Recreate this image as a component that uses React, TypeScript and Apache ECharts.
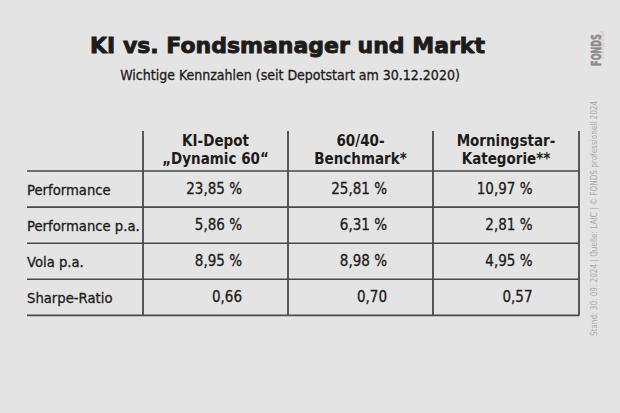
import React, { useEffect, useRef } from "react";
import * as echarts from "echarts";

const title = "KI vs. Fondsmanager und Markt";
const subtitle = "Wichtige Kennzahlen (seit Depotstart am 30.12.2020)";
const columnHeaders = ["KI-Depot\n„Dynamic 60“", "60/40-\nBenchmark*", "Morningstar-\nKategorie**"];
const rowLabels = ["Performance", "Performance p.a.", "Vola p.a.", "Sharpe-Ratio"];
const kiDepot = [23.85, 5.86, 8.95, 0.66];
const benchmark = [25.81, 6.31, 8.98, 0.7];
const morningstar = [10.97, 2.81, 4.95, 0.57];
const isPercent = [true, true, true, false];
const sourceNote = "Stand: 30. 09. 2024 | Quelle: LAIC | © FONDS professionell 2024";

const NARROW = "'DejaVu Sans Condensed', 'Liberation Sans Narrow', sans-serif";

export default function App() {
  const ref = useRef<HTMLDivElement>(null);
  useEffect(() => {
    document.body.style.margin = "0";
    const chart = echarts.init(ref.current!, undefined, { renderer: "svg" });
    const columns = [kiDepot, benchmark, morningstar];
    const lineColor = "#4b4846";
    const textColor = "#1f1b1a";
    const left = 27;
    const right = 579;
    const colX = [143, 288, 433, 579];
    const top = 131;
    const headerBottom = 171;
    const rowH = 36.1;
    const fmt = (v: number, p: boolean) => v.toFixed(2).replace(".", ",") + (p ? " %" : "");
    const els: any[] = [];
    for (let i = 0; i <= rowLabels.length; i++) {
      const y = headerBottom + i * rowH;
      els.push({ type: "line", shape: { x1: left, y1: y, x2: right, y2: y }, style: { stroke: lineColor, lineWidth: 1.6 } });
    }
    const bottom = headerBottom + rowLabels.length * rowH;
    colX.forEach((x) => {
      els.push({ type: "line", shape: { x1: x, y1: top, x2: x, y2: bottom }, style: { stroke: lineColor, lineWidth: 1.8 } });
    });
    columnHeaders.forEach((h, c) => {
      const cx = (colX[c] + colX[c + 1]) / 2;
      els.push({
        type: "text", x: cx, y: 149.5,
        style: { text: h, fill: textColor, font: `bold 15px ${NARROW}`, align: "center", verticalAlign: "middle", lineHeight: 18 },
      });
    });
    const bodyStroke = { stroke: textColor, lineWidth: 0.3 };
    rowLabels.forEach((label, r) => {
      const cy = headerBottom + r * rowH + rowH / 2;
      els.push({ type: "text", x: left, y: cy, style: { text: label, fill: textColor, ...bodyStroke, font: `14.7px ${NARROW}`, align: "left", verticalAlign: "middle" } });
      columns.forEach((col, c) => {
        const cx = (colX[c] + colX[c + 1]) / 2;
        els.push({
          type: "text", x: cx + 26.5, y: cy,
          style: { text: fmt(col[r], isPercent[r]), fill: textColor, ...bodyStroke, font: `15px ${NARROW}`, align: "right", verticalAlign: "middle" },
        });
      });
    });
    els.push({ type: "text", x: 287.5, y: 45.5, style: { text: title, fill: "#1e1b1a", stroke: "#1e1b1a", lineWidth: 0.9, font: `bold 22px 'DejaVu Sans', sans-serif`, align: "center", verticalAlign: "middle" } });
    els.push({ type: "text", x: 290, y: 75, style: { text: subtitle, fill: textColor, ...bodyStroke, font: `14px ${NARROW}`, align: "center", verticalAlign: "middle" } });
    els.push({ type: "text", x: 594, y: 218.5, rotation: Math.PI / 2, scaleX: 0.9, style: { text: sourceNote, fill: "#a9a9a9", font: `9px ${NARROW}`, align: "center", verticalAlign: "middle" } });
    els.push({ type: "text", x: 596.5, y: 50, rotation: Math.PI / 2, scaleX: 0.58, style: { text: "FONDS", fill: "#8a8a8a", stroke: "#8a8a8a", lineWidth: 0.5, font: `bold 14px 'DejaVu Sans', sans-serif`, align: "center", verticalAlign: "middle" } });
    els.push({ type: "text", x: 602, y: 45, rotation: Math.PI / 2, style: { text: "professionell", fill: "#e2b8b8", font: `5px ${NARROW}`, align: "center", verticalAlign: "middle" } });

    chart.setOption({ animation: false, backgroundColor: "#e4e4e4", graphic: { elements: els } });
    return () => chart.dispose();
  }, []);
  return <div ref={ref} style={{ width: 620, height: 413 }} />;
}
